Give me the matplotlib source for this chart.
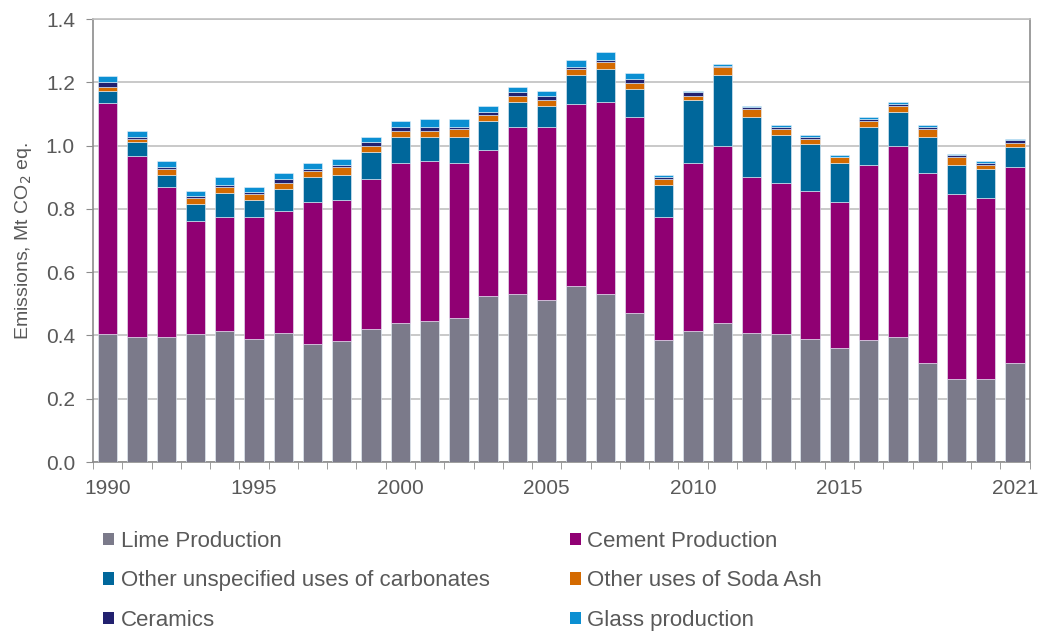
import numpy as np
import matplotlib
matplotlib.use("Agg")
import matplotlib.pyplot as plt
from matplotlib.patches import Patch

plt.rcParams['font.family'] = ['Liberation Sans', 'DejaVu Sans']

# data (Mt CO2 eq.)
years = list(range(1990, 2022))
lime = [0.404, 0.396, 0.396, 0.404, 0.414, 0.390, 0.409, 0.372, 0.383, 0.420,
        0.438, 0.445, 0.456, 0.525, 0.530, 0.512, 0.556, 0.530, 0.470, 0.385,
        0.415, 0.438, 0.409, 0.404, 0.390, 0.359, 0.385, 0.396, 0.312, 0.262,
        0.262, 0.312]
cement = [0.730, 0.571, 0.474, 0.357, 0.359, 0.383, 0.383, 0.450, 0.445, 0.475,
          0.506, 0.505, 0.488, 0.461, 0.528, 0.546, 0.575, 0.608, 0.619, 0.388,
          0.529, 0.561, 0.493, 0.479, 0.468, 0.463, 0.553, 0.603, 0.600, 0.585,
          0.572, 0.619]
other_carb = [0.039, 0.043, 0.036, 0.054, 0.078, 0.055, 0.072, 0.078, 0.078, 0.085,
              0.084, 0.078, 0.084, 0.091, 0.080, 0.067, 0.091, 0.103, 0.091, 0.103,
              0.200, 0.223, 0.187, 0.151, 0.147, 0.122, 0.120, 0.107, 0.116, 0.091,
              0.091, 0.066]
soda_ash = [0.013, 0.012, 0.019, 0.019, 0.019, 0.019, 0.019, 0.021, 0.025, 0.019,
            0.019, 0.019, 0.025, 0.021, 0.019, 0.019, 0.019, 0.023, 0.019, 0.017,
            0.013, 0.025, 0.026, 0.019, 0.017, 0.019, 0.019, 0.019, 0.023, 0.025,
            0.013, 0.012]
ceramics = [0.014, 0.006, 0.006, 0.007, 0.006, 0.006, 0.012, 0.006, 0.007, 0.012,
            0.013, 0.013, 0.007, 0.008, 0.012, 0.013, 0.006, 0.006, 0.012, 0.009,
            0.012, 0.006, 0.006, 0.007, 0.006, 0.002, 0.008, 0.006, 0.009, 0.006,
            0.008, 0.009]
glass = [0.020, 0.019, 0.019, 0.017, 0.026, 0.017, 0.017, 0.017, 0.019, 0.017,
         0.017, 0.023, 0.023, 0.019, 0.017, 0.016, 0.025, 0.025, 0.017, 0.004,
         0.004, 0.005, 0.004, 0.004, 0.004, 0.004, 0.004, 0.007, 0.004, 0.004,
         0.004, 0.004]
labelled_years = [1990, 1995, 2000, 2005, 2010, 2015, 2021]

series = [
    ("Lime Production", lime, "#7b7a8a"),
    ("Cement Production", cement, "#900073"),
    ("Other unspecified uses of carbonates", other_carb, "#00679b"),
    ("Other uses of Soda Ash", soda_ash, "#d46a00"),
    ("Ceramics", ceramics, "#22216f"),
    ("Glass production", glass, "#0b8fd2"),
]

fig = plt.figure(figsize=(10.39, 6.35), dpi=100)
ax = fig.add_axes([0.0895, 0.2724, 0.9015, 0.6976])

x = np.arange(len(years))
bottom = np.zeros(len(years))
handles = {}
for name, vals, col in series:
    ax.bar(x, vals, 0.66, bottom=bottom, color=col, edgecolor="#e8f2fa", linewidth=0.4, zorder=3)
    bottom += np.array(vals)
    handles[name] = Patch(facecolor=col, edgecolor="none")

ax.set_xlim(-0.5, len(years) - 0.5)
ax.set_ylim(0, 1.4)
ax.set_yticks(np.arange(0, 1.41, 0.2))
ax.set_yticklabels([f"{v:.1f}" for v in np.arange(0, 1.41, 0.2)])
ax.yaxis.grid(True, color="#c0c0c0", linewidth=1.2, zorder=0)

ax.set_xticks([years.index(y) for y in labelled_years])
ax.set_xticklabels([str(y) for y in labelled_years])
ax.set_xticks(np.arange(-0.5, len(years), 1), minor=True)
ax.tick_params(axis="x", which="major", length=0, pad=12, labelsize=15, labelcolor="#595959")
ax.tick_params(axis="x", which="minor", length=5, color="#8c8c8c", direction="out")
ax.tick_params(axis="y", length=5, color="#8c8c8c", labelsize=15, labelcolor="#595959", pad=8)

for s in ["left", "bottom", "right"]:
    ax.spines[s].set_color("#8c8c8c")
    ax.spines[s].set_linewidth(1.2)
ax.spines["top"].set_color("#c0c0c0")
ax.spines["top"].set_linewidth(1.2)

ax.set_ylabel("Emissions, Mt CO$_2$ eq.", fontsize=14, color="#595959")
ax.yaxis.set_label_coords(-0.063, 0.5)

order = ["Lime Production", "Other unspecified uses of carbonates", "Ceramics",
         "Cement Production", "Other uses of Soda Ash", "Glass production"]
leg = fig.legend([handles[n] for n in order], order, ncol=2, loc="upper left",
                 bbox_to_anchor=(103 / 1039, 1 - 531 / 635), frameon=False, fontsize=16,
                 handlelength=0.5, handleheight=0.5, handletextpad=0.3,
                 columnspacing=3.6, labelspacing=0.83, borderaxespad=0, borderpad=0)
for t in leg.get_texts():
    t.set_color("#595959")

fig.savefig("out.png", dpi=100)
